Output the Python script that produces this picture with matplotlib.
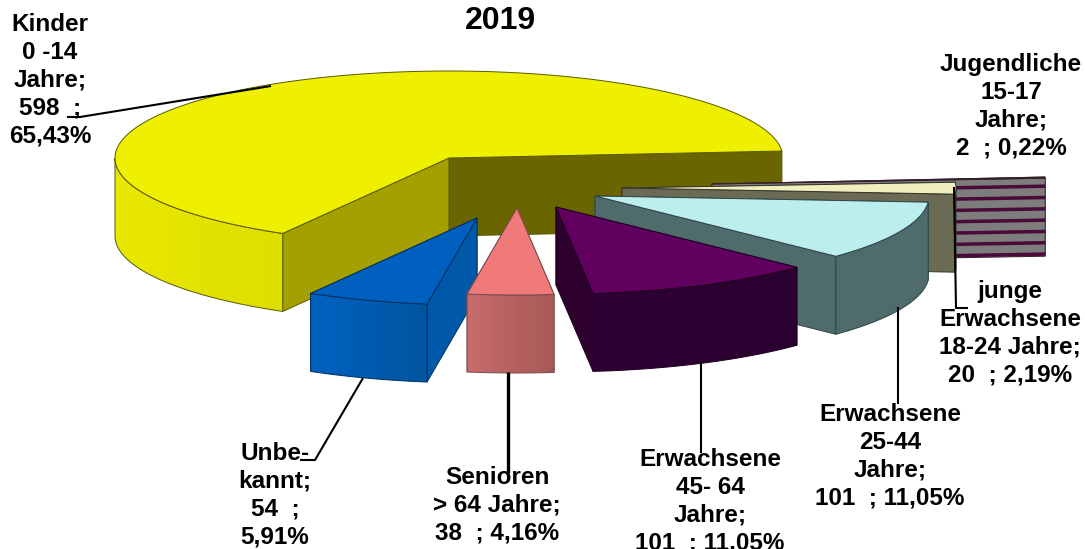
import numpy as np
import matplotlib
matplotlib.use("Agg")
import matplotlib.pyplot as plt
from matplotlib.colors import to_rgb
from matplotlib.patches import Polygon

plt.rcParams['font.family'] = ['Liberation Sans', 'DejaVu Sans']

# data, in drawing order round the pie
names = ["Kinder", "Unbekannt", "Senioren", "Erwachsene 45-64", "Erwachsene 25-44",
         "junge Erwachsene", "Jugendliche"]
counts = [598, 54, 38, 101, 101, 20, 2]
label_templates = [
    "Kinder\n0 -14\nJahre;\n{n}  ;\n{p}%",
    "Unbe-\nkannt;\n{n}  ;\n{p}%",
    "Senioren\n> 64 Jahre;\n{n}  ; {p}%",
    "Erwachsene\n45- 64\nJahre;\n{n}  ; {p}%",
    "Erwachsene\n25-44\nJahre;\n{n}  ; {p}%",
    "junge\nErwachsene\n18-24 Jahre;\n{n}  ; {p}%",
    "Jugendliche\n15-17\nJahre;\n{n}  ; {p}%",
]
title = "2019"

# layout of the fake 3d pie, all in pixels
START_ANGLE = 4.6
RX, RY = 334, 87
DEPTH = 78
apex_x = [449, 477, 517, 556, 595, 622, 712]
apex_y = [158, 218, 208, 207, 196, 188, 184]
label_x = [50, 275, 497, 710, 890, 1010, 1011]
label_y = [80, 495, 505, 501, 456, 333, 106]

top_colors = ["#efef00", "#0060c0", "#f07a7a", "#620060", "#bdeeee", "#f0eebc", "#4a0a3a"]
wall_left = ["#e8e800", "#0062bf", "#c86c6c", "#2e0034", "#4f6b6b", "#6b6b55", "#7d7d7d"]
wall_right = ["#dede00", "#00559f", "#a85858", "#2a0030", "#4f6b6b", "#6b6b55", "#7d7d7d"]
# cut faces: [face at start angle, face at end angle]
cut_colors = [("#6b6500", "#a3a000"), ("#0059a8", "#0059a8"), ("#b05a5a", "#b05a5a"),
              ("#2e002e", "#330033"), ("#4f6b6b", "#4f6b6b"), ("#6b6b55", "#6b6b55"),
              ("#7d7d7d", "#7d7d7d")]
edge_colors = ["#5a5a00", "#00305f", "#7a4a4a", "#200020", "#2f4545", "#33332a", "#33202c"]

# line from wedge to label
leaders = [
    ([271, 80, 67], [86, 117, 117], 1.5),
    ([363, 315, 300], [378, 460, 460], 1.5),
    ([508, 508], [372, 473], 2.4),
    ([701, 701], [362, 453], 1.5),
    ([898, 898], [307, 404], 1.5),
    ([954, 956, 968], [187, 308, 308], 1.5),
]


def rim(cx, cy, angles):
    a = np.radians(angles)
    return cx + RX * np.cos(a), cy - RY * np.sin(a)


def draw_wedge(ax, i, a1, a2, z):
    cx, cy = apex_x[i], apex_y[i]
    ec = edge_colors[i]

    # cut faces first, the top and the rim cover what should be hidden
    order = [(a1, cut_colors[i][0]), (a2, cut_colors[i][1])]
    if (a1 + a2) / 2 > 270:
        order = order[::-1]
    for ang, col in order:
        px, py = rim(cx, cy, np.array([ang]))
        xs = [cx, px[0], px[0], cx]
        ys = [cy, py[0], py[0] + DEPTH, cy + DEPTH]
        ax.add_patch(Polygon(np.c_[xs, ys], fc=col, ec=ec, lw=0.7, zorder=z))
        if names[i] == "Jugendliche" and ang == a1:
            # striped face
            for t in np.arange(0.08, 0.99, 0.145):
                ys2 = [cy + DEPTH * t, py[0] + DEPTH * t, py[0] + DEPTH * (t + 0.045), cy + DEPTH * (t + 0.045)]
                ax.add_patch(Polygon(np.c_[xs, ys2], fc=top_colors[i], ec="none", zorder=z))

    # outer wall, only the part facing us, gradient image clipped to the wall
    lo = max(a1, 180)
    hi = min(a2, 360)
    if hi > lo:
        steps = np.linspace(lo, hi, 100)
        x, y = rim(cx, cy, steps)
        outline = np.r_[np.c_[x, y], np.c_[x[::-1], y[::-1] + DEPTH]]
        c1 = np.array(to_rgb(wall_left[i]))
        c2 = np.array(to_rgb(wall_right[i]))
        grad = np.linspace(c1, c2, 64)[np.newaxis, :, :]
        im = ax.imshow(grad, extent=[x.min(), x.max(), y.max() + DEPTH, y.min()],
                       aspect="auto", zorder=z, interpolation="bilinear")
        wall = Polygon(outline, fc="none", ec=ec, lw=0.7, zorder=z)
        ax.add_patch(wall)
        im.set_clip_path(wall)

    # top
    steps = np.linspace(a1, a2, 200)
    x, y = rim(cx, cy, steps)
    pts = np.r_[[[cx, cy]], np.c_[x, y]]
    ax.add_patch(Polygon(pts, fc=top_colors[i], ec=ec, lw=0.7, zorder=z))


fig = plt.figure(figsize=(10.85, 5.49), dpi=100)
ax = fig.add_axes([0, 0, 1, 1])
ax.axis("off")

total = sum(counts)
shares = [c / total * 100 for c in counts]
angles = START_ANGLE + np.cumsum([0] + [c / total * 360 for c in counts])

# angle runs counter clockwise, painted from the back to the front
paint_order = [0, 6, 5, 4, 3, 1, 2]
for z, i in enumerate(paint_order):
    draw_wedge(ax, i, angles[i], angles[i + 1], z + 1)

for xs, ys, lw in leaders:
    ax.plot(xs, ys, color="black", lw=lw, zorder=20, solid_capstyle="butt")

for i in range(len(counts)):
    pct = f"{shares[i]:.2f}".replace(".", ",")
    txt = label_templates[i].format(n=counts[i], p=pct)
    ax.text(label_x[i], label_y[i], txt, ha="center", va="center", fontsize=17.5,
            fontweight="bold", linespacing=1.27, zorder=30)

ax.text(500, 21, title, ha="center", va="center", fontsize=23, fontweight="bold", zorder=30)

ax.set_xlim(0, 1085)
ax.set_ylim(549, 0)

plt.savefig("out.png", dpi=100)
